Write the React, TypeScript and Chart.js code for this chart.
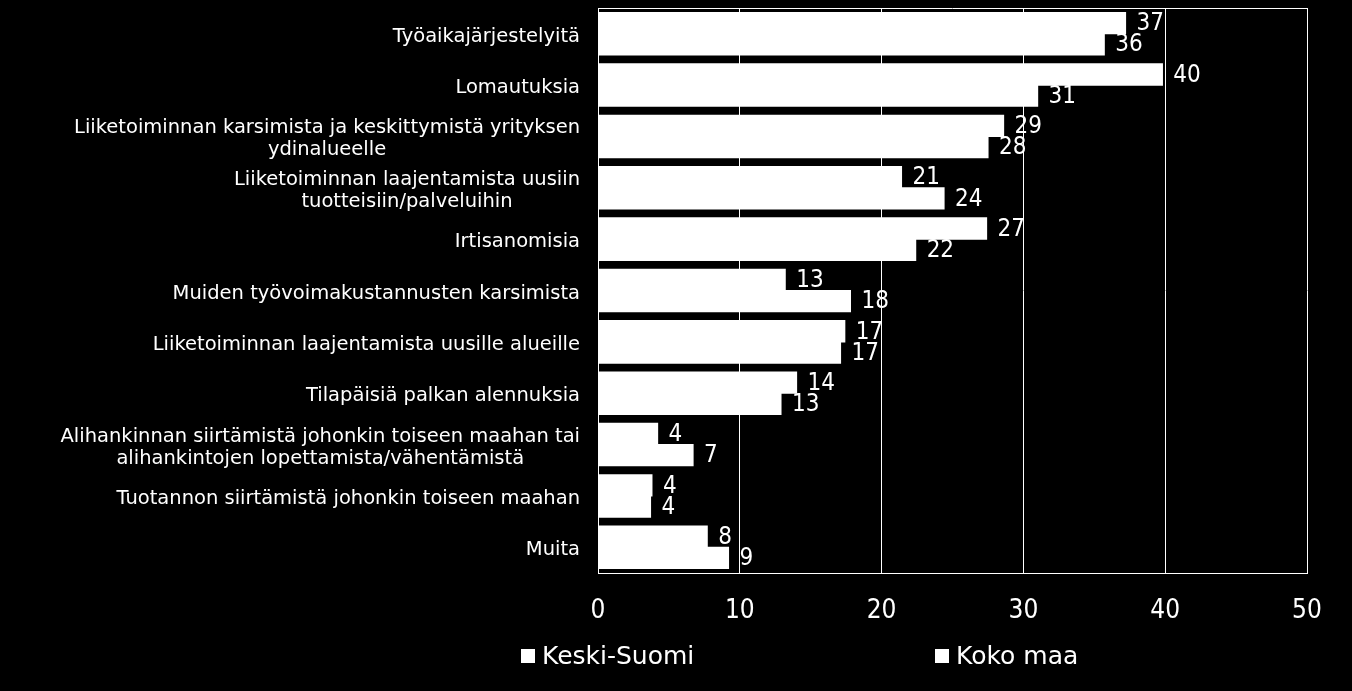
import { useEffect, useRef } from "react"
import { Chart, registerables } from "chart.js"

Chart.register(...registerables)

const NUM_FONT = "'DejaVu Sans Condensed', 'DejaVu Sans', sans-serif"
const TEXT_FONT = "'DejaVu Sans', sans-serif"

const categories: string[][] = [
  ["Työaikajärjestelyitä"],
  ["Lomautuksia"],
  ["Liiketoiminnan karsimista ja keskittymistä yrityksen", "ydinalueelle"],
  ["Liiketoiminnan laajentamista uusiin", "tuotteisiin/palveluihin"],
  ["Irtisanomisia"],
  ["Muiden työvoimakustannusten karsimista"],
  ["Liiketoiminnan laajentamista uusille alueille"],
  ["Tilapäisiä palkan alennuksia"],
  ["Alihankinnan siirtämistä johonkin toiseen maahan tai", "alihankintojen lopettamista/vähentämistä"],
  ["Tuotannon siirtämistä johonkin toiseen maahan"],
  ["Muita"],
]
const seriesNames = ["Keski-Suomi", "Koko maa"]
const keskiSuomi = [37.2, 39.8, 28.6, 21.4, 27.4, 13.2, 17.4, 14.0, 4.2, 3.8, 7.7]
const kokoMaa = [35.7, 31.0, 27.5, 24.4, 22.4, 17.8, 17.1, 12.9, 6.7, 3.7, 9.2]
const xMax = 50
const xStep = 10

// category labels, value labels, frame and legend
const decorPlugin = {
  id: "decor",
  beforeDatasetsDraw(chart: any) {
    const { ctx, chartArea } = chart
    ctx.save()
    ctx.strokeStyle = "#fff"
    ctx.lineWidth = 1
    ctx.beginPath()
    ctx.moveTo(chartArea.left, chartArea.top + 0.5)
    ctx.lineTo(chartArea.right, chartArea.top + 0.5)
    ctx.stroke()
    ctx.restore()
  },
  afterDatasetsDraw(chart: any) {
    const { ctx } = chart
    ctx.save()
    ctx.fillStyle = "#fff"
    ctx.font = `24px ${NUM_FONT}`
    ctx.textAlign = "left"
    ctx.textBaseline = "middle"
    chart.data.datasets.forEach((ds: any, di: number) => {
      const meta = chart.getDatasetMeta(di)
      meta.data.forEach((bar: any, i: number) => {
        ctx.fillText(String(Math.round(ds.data[i])), bar.x + 11, bar.y + 1)
      })
    })
    ctx.restore()
  },
  afterDraw(chart: any) {
    const { ctx, scales } = chart
    const yScale = scales.y
    const right = 580
    const lineH = 22
    ctx.save()
    ctx.fillStyle = "#fff"
    ctx.font = `19.5px ${TEXT_FONT}`
    ctx.textAlign = "center"
    ctx.textBaseline = "middle"
    categories.forEach((lines, i) => {
      const cy = yScale.getPixelForValue(i) + 3
      const w = Math.max(...lines.map((l) => ctx.measureText(l).width))
      const cx = right - w / 2
      const y0 = cy - ((lines.length - 1) * lineH) / 2
      lines.forEach((l, j) => ctx.fillText(l, cx, y0 + j * lineH))
    })

    // legend
    ctx.font = `25px ${TEXT_FONT}`
    ctx.textAlign = "left"
    const items = [
      { x: 521, name: seriesNames[0] },
      { x: 935, name: seriesNames[1] },
    ]
    items.forEach((it) => {
      ctx.fillRect(it.x, 649, 14, 14)
      ctx.fillText(it.name, it.x + 21, 657)
    })
    ctx.restore()
  },
}

function BarChart() {
  const chartRef = useRef<HTMLCanvasElement>(null)
  const chartInstance = useRef<Chart | null>(null)

  useEffect(() => {
    if (!chartRef.current) return
    if (chartInstance.current) chartInstance.current.destroy()
    const ctx = chartRef.current.getContext("2d")
    if (!ctx) return

    chartInstance.current = new Chart(ctx, {
      type: "bar",
      data: {
        labels: categories,
        datasets: [
          {
            label: seriesNames[0],
            data: keskiSuomi,
            backgroundColor: "#fff",
            borderWidth: 0,
            inflateAmount: 0.6,
            categoryPercentage: 0.824,
            barPercentage: 1,
          },
          {
            label: seriesNames[1],
            data: kokoMaa,
            backgroundColor: "#fff",
            borderWidth: 0,
            inflateAmount: 0.6,
            categoryPercentage: 0.824,
            barPercentage: 1,
          },
        ],
      },
      options: {
        indexAxis: "y",
        animation: false,
        responsive: true,
        maintainAspectRatio: false,
        layout: { padding: { top: 8, right: 45, left: 0, bottom: 0 } },
        scales: {
          x: {
            min: 0,
            max: xMax,
            ticks: {
              stepSize: xStep,
              color: "#fff",
              padding: 23,
              font: { size: 26, family: NUM_FONT },
            },
            grid: { color: "#fff", lineWidth: 1, drawTicks: false },
            border: { display: true, color: "#fff", width: 1 },
            afterFit: (scale: any) => {
              scale.height = 118
            },
          },
          y: {
            ticks: { display: false },
            grid: { display: false },
            border: { display: true, color: "#fff", width: 1 },
            afterFit: (scale: any) => {
              scale.width = 598
            },
          },
        },
        plugins: {
          legend: { display: false },
          tooltip: { enabled: false },
        },
      },
      plugins: [decorPlugin],
    })

    return () => {
      if (chartInstance.current) {
        chartInstance.current.destroy()
        chartInstance.current = null
      }
    }
  }, [])

  return <canvas ref={chartRef} />
}

export default function App() {
  useEffect(() => {
    document.body.style.margin = "0"
    document.body.style.background = "#000"
  }, [])

  return (
    <div style={{ position: "fixed", left: 0, top: 0, width: 1352, height: 691, background: "#000" }}>
      <BarChart />
    </div>
  )
}
